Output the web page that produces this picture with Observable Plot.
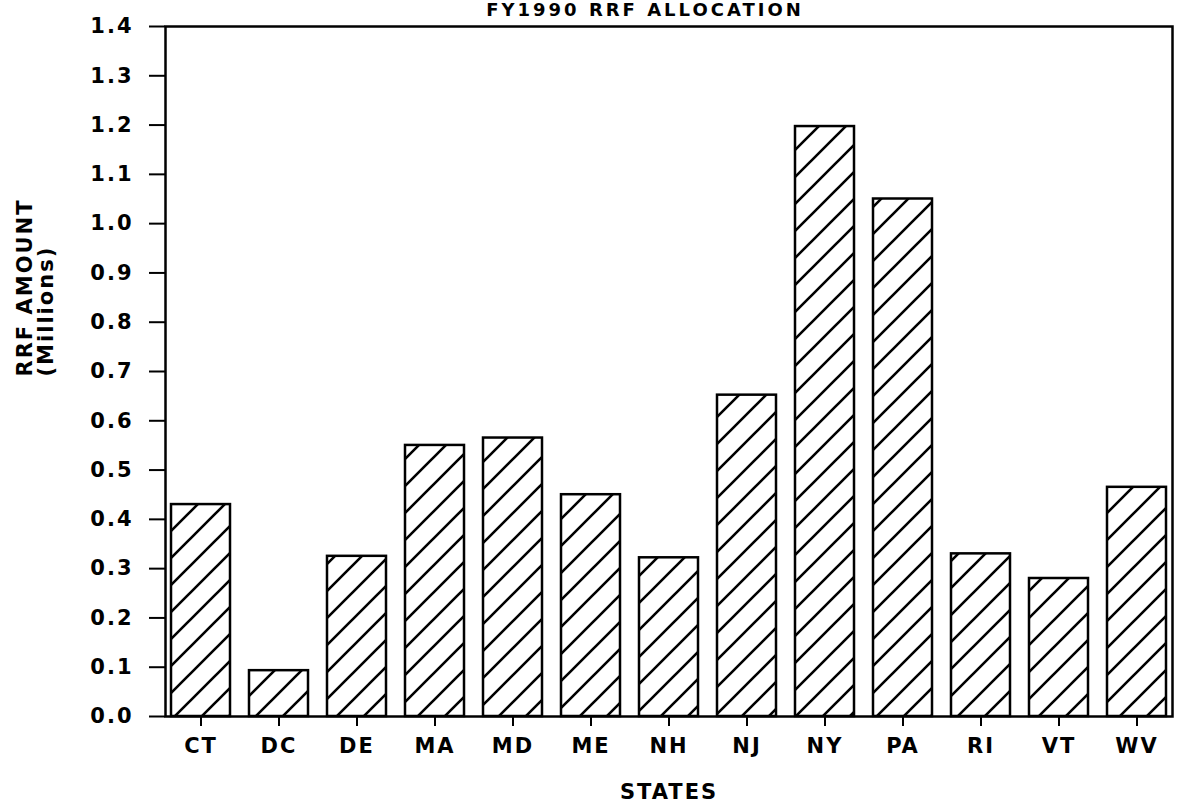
<!DOCTYPE html>
<html>
<head>
<meta charset="utf-8">
<script src="https://cdn.jsdelivr.net/npm/d3@7"></script>
<script src="https://cdn.jsdelivr.net/npm/@observablehq/plot@0.6"></script>
<style>
  html, body { margin: 0; padding: 0; background: #fff; }
  body { width: 1180px; height: 806px; overflow: hidden; position: relative; font-family: "DejaVu Sans", sans-serif; }
  #title { position: absolute; top: 0px; left: 645px; transform: translateX(-50%); white-space: nowrap; z-index: 2;
           font-size: 18px; font-weight: bold; letter-spacing: 3px; color: #000; line-height: 19px; }
  #chart { position: absolute; top: 0; left: 0; z-index: 1; }
</style>
</head>
<body>
<div id="chart"></div>
<div id="title">FY1990 RRF ALLOCATION</div>
<script>
const states = ["CT", "DC", "DE", "MA", "MD", "ME", "NH", "NJ", "NY", "PA", "RI", "VT", "WV"];
const amounts = [0.43, 0.093, 0.325, 0.55, 0.565, 0.45, 0.322, 0.652, 1.197, 1.05, 0.33, 0.28, 0.465];
const yTicks = [0, 0.1, 0.2, 0.3, 0.4, 0.5, 0.6, 0.7, 0.8, 0.9, 1.0, 1.1, 1.2, 1.3, 1.4];
const xTitle = "STATES";
const yTitle = "RRF AMOUNT\n(Millions)";

const data = states.map((s, i) => ({state: s, amount: amounts[i]}));

const chart = Plot.plot({
  width: 1180,
  height: 806,
  marginLeft: 165,
  marginRight: 8,
  marginTop: 26,
  marginBottom: 90,
  style: {fontFamily: "DejaVu Sans, sans-serif", fontSize: "20px", fontWeight: "bold", letterSpacing: "2px", color: "#000", background: "transparent"},
  x: {domain: states, paddingInner: 0.24, paddingOuter: 0.06, label: null},
  y: {domain: [0, 1.4], label: null},
  marks: [
    Plot.barY(data, {x: "state", y: "amount", fill: "url(#hatch)", stroke: "#000", strokeWidth: 2.5}),
    Plot.frame({stroke: "#000", strokeWidth: 2.5}),
    Plot.axisY({ticks: yTicks, tickFormat: d => d.toFixed(1), tickSize: 16, tickPadding: 16, strokeWidth: 2, fontSize: 21, label: null}),
    Plot.axisX({tickSize: 10, tickPadding: 12, strokeWidth: 2, fontSize: 21, label: null}),
    Plot.text([xTitle], {frameAnchor: "bottom", dy: 76, lineAnchor: "middle", fontSize: 21, fill: "#000"}),
    Plot.text([yTitle], {frameAnchor: "left", dx: -130, dy: 5, rotate: -90, lineAnchor: "middle", lineHeight: 1.0, fontSize: 21, fill: "#000"})
  ]
});

d3.select(chart).insert("defs", ":first-child").html(`
  <pattern id="hatch" patternUnits="userSpaceOnUse" width="27" height="27">
    <rect width="27" height="27" fill="#fff"></rect>
    <path d="M0,27 L27,0 M-6.75,6.75 L6.75,-6.75 M20.25,33.75 L33.75,20.25" stroke="#000" stroke-width="2.6" fill="none"></path>
  </pattern>`);

document.getElementById("chart").appendChild(chart);
</script>
</body>
</html>
